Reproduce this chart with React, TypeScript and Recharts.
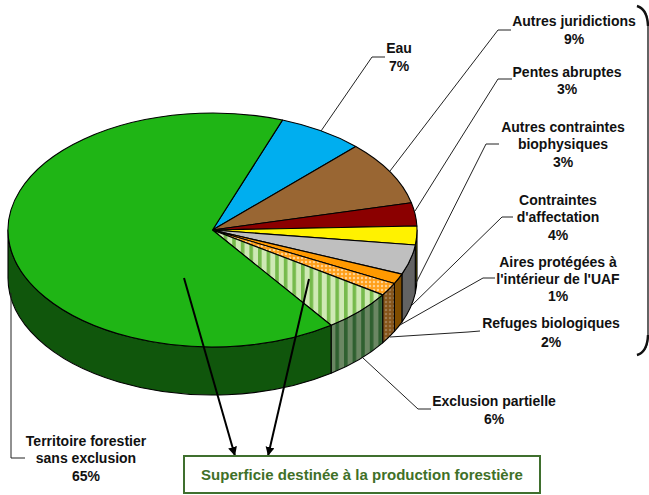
import { Pie, PieChart, Cell } from "recharts";

// clockwise starting at the blue slice, estimated from the slice edges (labels are rounded)
const sliceNames = [
  "Eau",
  "Autres juridictions",
  "Pentes abruptes",
  "Autres contraintes biophysiques",
  "Contraintes d'affectation",
  "Aires protégées à l'intérieur de l'UAF",
  "Refuges biologiques",
  "Exclusion partielle",
  "Territoire forestier sans exclusion",
];
const sliceValues = [6.8, 8.9, 3.2, 2.6, 4.1, 1.4, 1.8, 5.8, 65.4];

const topFills = [
  "#00aeef",
  "#996633",
  "#8b0000",
  "#fff200",
  "#bfbfbf",
  "#ff9900",
  "url(#hatchTop)",
  "url(#stripeTop)",
  "#1fb515",
];
const wallFills = [
  "#005877",
  "#4d3319",
  "#460000",
  "#6e6800",
  "#636363",
  "#804d00",
  "url(#hatchWall)",
  "url(#stripeWall)",
  "#10560c",
];

const chartData = sliceNames.map((name, i) => ({ name, value: sliceValues[i] }));

const WIDTH = 649;
const HEIGHT = 495;
const CX = 212.5;
const CY = 230;
const RADIUS = 204.5;
const SQUASH = 0.572;
const DEPTH = 48;
const START_ANGLE = 70;

const point = (cx: number, cy: number, r: number, deg: number) => {
  const a = (deg * Math.PI) / 180;
  return `${cx + r * Math.cos(a)} ${cy - r * SQUASH * Math.sin(a)}`;
};

// top face of a slice, ellipse instead of circle
function TopSlice(props: any) {
  const { cx, cy, outerRadius: r, startAngle, endAngle, fill } = props;
  const large = Math.abs(startAngle - endAngle) > 180 ? 1 : 0;
  const d = `M ${cx} ${cy} L ${point(cx, cy, r, startAngle)} A ${r} ${r * SQUASH} 0 ${large} 1 ${point(cx, cy, r, endAngle)} Z`;
  return <path d={d} fill={fill} stroke="#000" strokeWidth={1.1} strokeLinejoin="round" />;
}

// side of a slice, only the front half of the pie can be seen
function WallSlice(props: any) {
  const { cx, cy, outerRadius: r, startAngle, endAngle, fill } = props;
  const from = Math.min(startAngle, 0);
  const to = Math.max(endAngle, -180);
  if (from <= to) return null;
  const d = [
    `M ${point(cx, cy, r, from)}`,
    `A ${r} ${r * SQUASH} 0 0 1 ${point(cx, cy, r, to)}`,
    `L ${point(cx, cy + DEPTH, r, to)}`,
    `A ${r} ${r * SQUASH} 0 0 0 ${point(cx, cy + DEPTH, r, from)}`,
    "Z",
  ].join(" ");
  return <path d={d} fill={fill} stroke="#000" strokeWidth={1.1} strokeLinejoin="round" />;
}

// [center x, center y of each line, lines]
const callouts: { x: number; ys: number[]; lines: string[] }[] = [
  { x: 399, ys: [48, 66], lines: ["Eau", "7%"] },
  { x: 574, ys: [21, 39], lines: ["Autres juridictions", "9%"] },
  { x: 567, ys: [72, 89], lines: ["Pentes abruptes", "3%"] },
  { x: 563, ys: [127, 144, 162], lines: ["Autres contraintes", "biophysiques", "3%"] },
  { x: 558, ys: [200, 217, 235], lines: ["Contraintes", "d'affectation", "4%"] },
  { x: 558, ys: [262, 279, 296], lines: ["Aires protégées à", "l'intérieur de l'UAF", "1%"] },
  { x: 551, ys: [323, 342], lines: ["Refuges biologiques", "2%"] },
  { x: 494, ys: [401, 419], lines: ["Exclusion partielle", "6%"] },
  { x: 86, ys: [441, 458, 476], lines: ["Territoire forestier", "sans exclusion", "65%"] },
];

const leaders = [
  "321,131 372,57 385,57",
  "390,171 498,30 511,30",
  "415,211 498,79 512,79",
  "416,283 486,144 499,144",
  "410,307 502,217 513,217",
  "400,325 483,278 495,278",
  "390,337 468,332 480,331",
  "363,358 418,409 431,409",
  "11,293 11,458 25,458",
];

function Annotations() {
  return (
    <svg
      width={WIDTH}
      height={HEIGHT}
      style={{ position: "absolute", left: 0, top: 0 }}
      fontFamily="Liberation Sans"
      fontWeight="bold"
    >
      <defs>
        <marker id="arrowHead" markerUnits="userSpaceOnUse" markerWidth="10" markerHeight="10" refX="9" refY="4.5" orient="auto">
          <path d="M0 0 L9 4.5 L0 9 Z" fill="#000" />
        </marker>
      </defs>
      {leaders.map((pts) => (
        <polyline key={pts} points={pts} fill="none" stroke="#222" strokeWidth={1} />
      ))}
      {callouts.map((c) =>
        c.lines.map((line, i) => (
          <text key={line + c.x} x={c.x} y={c.ys[i] + 5} textAnchor="middle" fontSize={14} fill="#111">
            {line}
          </text>
        ))
      )}
      <line x1={184} y1={278} x2={235} y2={456} stroke="#000" strokeWidth={2} markerEnd="url(#arrowHead)" />
      <line x1={309} y1={279} x2={268} y2={456} stroke="#000" strokeWidth={2} markerEnd="url(#arrowHead)" />
      <rect x={184} y={456} width={356} height={37} fill="#fff" stroke="#3f6f2e" strokeWidth={2} />
      <text x={362} y={480} textAnchor="middle" fontSize={15} fill="#3f7028">
        Superficie destinée à la production forestière
      </text>
      <path d="M637 6 C644 8 648 14 648 26 L648 335 C648 347 644 353 637 355" fill="none" stroke="#111" strokeWidth={1.3} />
      <path d="M637 6 C644 8 647.5 14 648 26" fill="none" stroke="#111" strokeWidth={2.4} />
      <path d="M648 335 C647.5 347 644 353 637 355" fill="none" stroke="#111" strokeWidth={2.4} />
    </svg>
  );
}

export default function App() {
  return (
    <div style={{ position: "fixed", left: 0, top: 0, width: WIDTH, height: HEIGHT, background: "#fff" }}>
      <PieChart width={WIDTH} height={HEIGHT} margin={{ top: 0, right: 0, bottom: 0, left: 0 }}>
        <defs>
          <pattern id="stripeTop" width="8.6" height="8" patternUnits="userSpaceOnUse">
            <rect width="8.6" height="8" fill="#cfe9b5" />
            <rect x="0" width="3.6" height="8" fill="#76ba4c" />
          </pattern>
          <pattern id="stripeWall" width="8.6" height="8" patternUnits="userSpaceOnUse">
            <rect width="8.6" height="8" fill="#6b8763" />
            <rect x="0" width="3.6" height="8" fill="#2f6030" />
          </pattern>
          <pattern id="hatchTop" width="4" height="4" patternUnits="userSpaceOnUse">
            <rect width="4" height="4" fill="#ff9f1a" />
            <path d="M2 0.6 L3.4 2 L2 3.4 L0.6 2 Z" fill="#ffdca6" />
          </pattern>
          <pattern id="hatchWall" width="4" height="4" patternUnits="userSpaceOnUse">
            <rect width="4" height="4" fill="#85541a" />
            <path d="M2 0.6 L3.4 2 L2 3.4 L0.6 2 Z" fill="#a5835a" />
          </pattern>
        </defs>
        <Pie
          data={chartData}
          dataKey="value"
          nameKey="name"
          cx={CX}
          cy={CY}
          outerRadius={RADIUS}
          startAngle={START_ANGLE}
          endAngle={START_ANGLE - 360}
          shape={WallSlice}
          isAnimationActive={false}
        >
          {wallFills.map((fill) => (
            <Cell key={fill} fill={fill} />
          ))}
        </Pie>
        <Pie
          data={chartData}
          dataKey="value"
          nameKey="name"
          cx={CX}
          cy={CY}
          outerRadius={RADIUS}
          startAngle={START_ANGLE}
          endAngle={START_ANGLE - 360}
          shape={TopSlice}
          isAnimationActive={false}
        >
          {topFills.map((fill) => (
            <Cell key={fill} fill={fill} />
          ))}
        </Pie>
      </PieChart>
      <Annotations />
    </div>
  );
}
